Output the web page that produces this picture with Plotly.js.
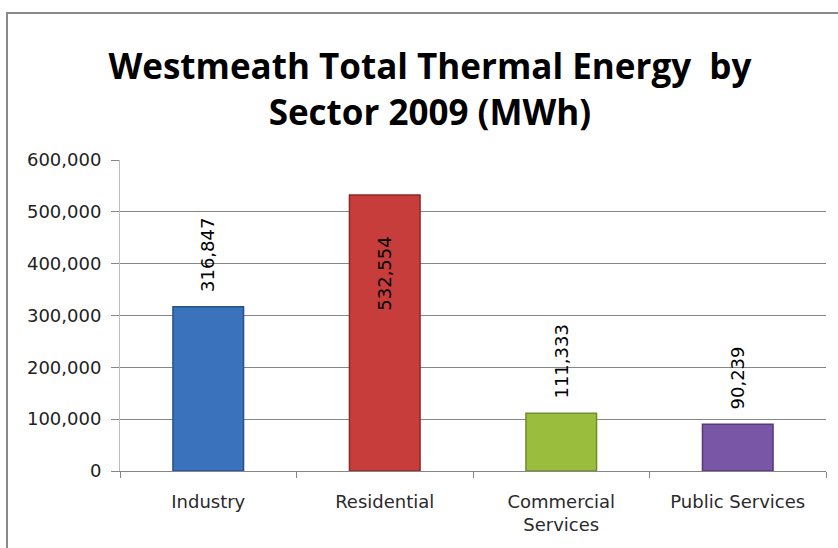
<!DOCTYPE html>
<html>
<head>
<meta charset="utf-8">
<script src="https://cdn.plot.ly/plotly-3.0.1.min.js"></script>
<style>
  body { margin: 0; background: #fff; }
  #chart { width: 838px; height: 548px; }
  #frame { position: absolute; left: 6px; top: 12px; width: 900px; height: 600px;
           border: 2px solid #8a8a8a; pointer-events: none; }
</style>
</head>
<body>
<div id="chart"></div>
<div id="frame"></div>
<script>
// Thermal energy by sector, 2009 (MWh)
const sectors = ["Industry", "Residential", "Commercial<br>Services", "Public Services"];
const energy = [316847, 532554, 111333, 90239];
const barColors = ["#3a72bb", "#c63d3b", "#9bbd3d", "#7a56a6"];
const edgeColors = ["#26528c", "#8e2826", "#6f8d2a", "#56397c"];
const yTicks = [0, 100000, 200000, 300000, 400000, 500000, 600000];

const fmt = v => v.toLocaleString("en-US");

const trace = {
  type: "bar",
  x: sectors,
  y: energy,
  marker: { color: barColors, line: { color: edgeColors, width: 1.5 } },
  hoverinfo: "x+y"
};

// value labels: above the bar, or inside near the top when the bar is too tall
const labels = energy.map((v, i) => {
  const inside = v > 450000;
  return {
    x: sectors[i], y: v, xref: "x", yref: "y",
    text: fmt(v), showarrow: false, textangle: -90,
    yanchor: inside ? "top" : "bottom",
    yshift: inside ? -40 : 13,
    font: { family: "DejaVu Sans, sans-serif", size: 18, color: "#000" }
  };
});

const layout = {
  width: 838,
  height: 548,
  margin: { t: 160, r: 12, b: 77, l: 120 },
  paper_bgcolor: "#fff",
  plot_bgcolor: "#fff",
  showlegend: false,
  bargap: 0.6,
  title: {
    text: "<b>Westmeath Total Thermal Energy  by<br>Sector 2009 (MWh)</b>",
    font: { family: "Open Sans, sans-serif", size: 35, color: "#000" },
    x: 0.513, xanchor: "center",
    yref: "container", y: 1 - 79 / 548, yanchor: "middle"
  },
  annotations: labels,
  xaxis: {
    type: "category",
    showline: true, linecolor: "#868686", linewidth: 1,
    ticks: "outside", tickson: "boundaries", ticklen: 6, tickcolor: "#868686",
    ticklabelstandoff: 14,
    tickfont: { family: "DejaVu Sans, sans-serif", size: 18, color: "#2a2a2a" },
    showgrid: false
  },
  yaxis: {
    range: [0, 600000],
    tickvals: yTicks,
    ticktext: yTicks.map(fmt),
    showline: true, linecolor: "#bcbcbc", linewidth: 1,
    ticks: "outside", ticklen: 8, tickcolor: "#868686",
    ticklabelstandoff: 6,
    showgrid: true, gridcolor: "#868686", gridwidth: 1,
    zeroline: false,
    tickfont: { family: "DejaVu Sans, sans-serif", size: 18, color: "#222" }
  }
};

Plotly.newPlot("chart", [trace], layout, { displayModeBar: false });
</script>
</body>
</html>
